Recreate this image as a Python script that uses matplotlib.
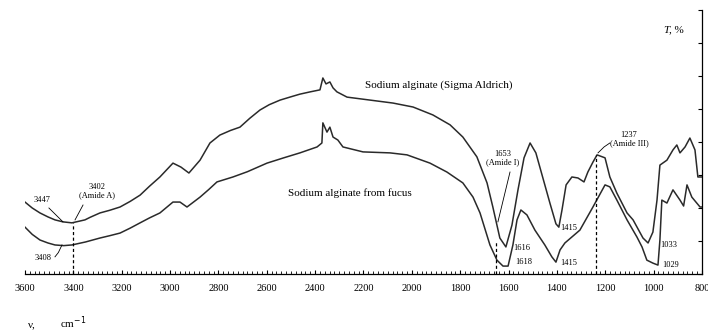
import matplotlib.pyplot as plt
from matplotlib.ticker import MultipleLocator

# Font: serif, Times-like
plt.rcParams['font.family'] = ['Liberation Serif', 'DejaVu Serif']

# FTIR spectra (wavenumber, cm-1 / transmittance, arb. %)
wn_sigma = [3600, 3570, 3538, 3505, 3476, 3443, 3406, 3352, 3330, 3290, 3250, 3207, 3165,
            3124, 3085, 3042, 2988, 2955, 2922, 2876, 2835, 2794, 2750, 2711, 2670, 2628,
            2590, 2545, 2500, 2463, 2420, 2380, 2368, 2355, 2339, 2326, 2310,
            2268, 2173, 2078, 1995, 1913, 1842, 1789, 1731, 1689, 1665, 1636, 1611, 1586,
            1561, 1536, 1511, 1487, 1458, 1429, 1404, 1392, 1379, 1362, 1338, 1313, 1288,
            1272, 1251, 1234, 1201, 1181, 1152, 1110, 1085, 1044, 1023, 1003, 986, 974,
            945, 920, 904, 891, 870, 850, 829, 817, 800]
t_sigma = [21.8, 20.0, 18.5, 17.3, 16.4, 15.8, 15.5, 16.4, 17.2, 18.5, 19.3, 20.3, 22.0,
           23.9, 26.6, 29.4, 33.6, 32.4, 30.6, 34.5, 39.7, 42.1, 43.5, 44.5, 47.2, 49.7,
           51.3, 52.7, 53.7, 54.5, 55.2, 55.8, 59.4, 57.6, 58.2, 56.4, 55.2,
           53.6, 52.7, 51.8, 50.6, 48.2, 45.2, 41.5, 35.5, 27.6, 20.3, 10.9, 8.2, 14.8,
           25.5, 35.2, 39.7, 36.7, 29.1, 21.5, 15.2, 14.2, 19.4, 27.0, 29.4, 29.1, 27.9,
           30.9, 33.9, 36.1, 35.2, 29.4, 24.5, 18.5, 16.4, 10.9, 9.4, 12.7, 22.4, 33.0,
           34.5, 37.6, 39.1, 36.7, 38.5, 41.2, 37.6, 29.4, 29.4]

wn_fucus = [3600, 3570, 3538, 3505, 3476, 3440, 3406, 3350, 3290, 3250, 3207, 3165, 3124,
            3085, 3042, 2988, 2959, 2930, 2876, 2840, 2806, 2740, 2680, 2599, 2530, 2463,
            2392, 2372, 2368, 2351, 2339, 2326, 2306, 2285, 2202, 2090,
            2020, 1925, 1855, 1789, 1747, 1718, 1677, 1648, 1623, 1602, 1582, 1565, 1549,
            1524, 1491, 1450, 1421, 1404, 1387, 1367, 1305, 1251, 1201, 1181, 1152, 1110,
            1069, 1048, 1028, 1003, 982, 974, 966, 945, 920, 891, 876, 862, 842, 808, 800]
t_fucus = [14.2, 12.0, 10.3, 9.4, 8.8, 8.6, 8.8, 9.7, 10.9, 11.6, 12.4, 13.9, 15.5,
           17.0, 18.5, 21.8, 21.8, 20.3, 23.3, 25.6, 27.9, 29.4, 31.0, 33.6, 35.2, 36.7,
           38.5, 39.7, 45.8, 43.0, 44.5, 41.5, 40.6, 38.5, 37.0, 36.7,
           36.1, 33.6, 30.9, 27.6, 23.3, 18.5, 8.8, 4.2, 2.4, 2.4, 8.8, 16.4, 19.4,
           17.9, 13.3, 8.8, 5.2, 3.6, 7.3, 9.4, 13.3, 20.3, 27.0, 26.4, 22.4, 16.4,
           11.2, 8.2, 4.2, 3.3, 2.7, 10.3, 22.4, 21.5, 25.5, 22.4, 20.6, 27.0, 23.3, 20.3, 20.3]

# marked bands: (wavenumber, top of dashed line)
bands = [(3402, 15.5), (1653, 9.6), (1237, 36.0)]

fig = plt.figure(figsize=(7.08, 3.31), dpi=100)
ax = fig.add_axes([0.0353, 0.1722, 0.9562, 0.7976])

line_col = '#2a2a2a'
ax.plot(wn_sigma, t_sigma, color=line_col, lw=1.1)
ax.plot(wn_fucus, t_fucus, color=line_col, lw=1.1)

for w, top in bands:
    ax.plot([w, w], [0, top], color='black', lw=0.9, ls=(0, (2.5, 2)))

ax.set_xlim(3600, 800)
ax.set_ylim(0, 80)

# axes: only bottom and right
ax.spines['top'].set_visible(False)
ax.spines['left'].set_visible(False)
ax.spines['bottom'].set_linewidth(0.9)
ax.spines['right'].set_linewidth(0.9)
ax.yaxis.tick_right()
ax.yaxis.set_major_locator(MultipleLocator(10))
ax.tick_params(axis='y', direction='in', length=3, labelright=False, width=0.8)
ax.xaxis.set_major_locator(MultipleLocator(200))
ax.xaxis.set_minor_locator(MultipleLocator(20))
ax.tick_params(axis='x', which='major', direction='in', length=3, width=0.8,
               labelsize=7.5, pad=7)
ax.tick_params(axis='x', which='minor', direction='in', length=2, width=0.6)
ax.grid(False)

fs = 6
# labels of the curves
ax.text(2194, 57.3, 'Sodium alginate (Sigma Aldrich)', fontsize=8, va='center')
ax.text(2512, 24.5, 'Sodium alginate from fucus', fontsize=8, va='center')

# peak labels
ax.text(3530, 22.4, '3447', fontsize=fs, ha='center', va='center')
ax.plot([3501, 3443], [20.0, 15.8], color='black', lw=0.6)
ax.text(3302, 25.2, '3402\n(Amide A)', fontsize=fs, ha='center', va='center', linespacing=1.1)
ax.plot([3360, 3393], [20.9, 16.4], color='black', lw=0.6)
ax.text(3526, 4.8, '3408', fontsize=fs, ha='center', va='center')
ax.plot([3476, 3462, 3447], [5.2, 6.5, 8.8], color='black', lw=0.6)

ax.text(1623, 35.2, '1653\n(Amide I)', fontsize=fs, ha='center', va='center', linespacing=1.1)
ax.plot([1594, 1644], [30.9, 15.8], color='black', lw=0.6)
ax.text(1582, 7.9, '1616', fontsize=fs, ha='left', va='center')
ax.text(1574, 3.6, '1618', fontsize=fs, ha='left', va='center')
ax.text(1387, 13.9, '1415', fontsize=fs, ha='left', va='center')
ax.text(1387, 3.3, '1415', fontsize=fs, ha='left', va='center')

ax.text(1102, 40.9, '1237\n(Amide III)', fontsize=fs, ha='center', va='center', linespacing=1.1)
ax.plot([1181, 1205, 1230], [39.7, 38.5, 36.7], color='black', lw=0.6)
ax.text(974, 8.8, '1033', fontsize=fs, ha='left', va='center')
ax.text(966, 2.7, '1029', fontsize=fs, ha='left', va='center')

# axis titles
ax.text(935, 73.9, 'T', fontsize=8, style='italic', ha='right', va='center')
ax.text(935, 73.9, ', %', fontsize=8, ha='left', va='center')
fig.text(32 / 708, 1 - 325 / 331, 'ν,', fontsize=8, ha='center', va='center')
fig.text(73 / 708, 1 - 323 / 331, 'cm$^{-1}$', fontsize=8, ha='center', va='center')

fig.savefig('out.png', dpi=100)
